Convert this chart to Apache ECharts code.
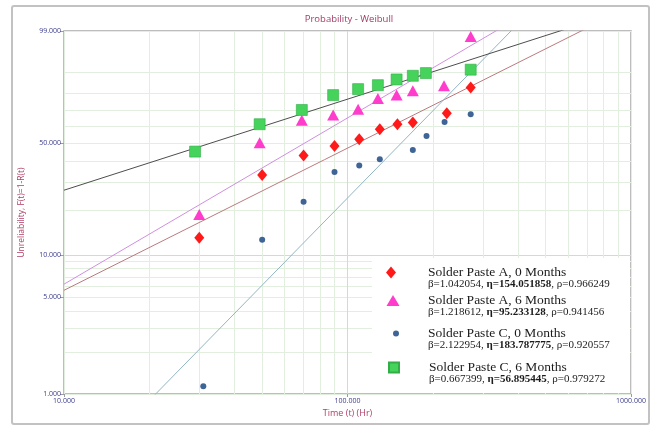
<!DOCTYPE html>
<html>
<head>
<meta charset="utf-8">
<script src="https://cdn.jsdelivr.net/npm/echarts@6/dist/echarts.min.js"></script>
<style>
  html, body { margin: 0; padding: 0; background: #ffffff; }
  #chart { width: 654px; height: 428px; }
</style>
</head>
<body>
<div id="chart"></div>
<script>
// Failure times (Hr) and unreliability (%) for each sample group
const timesA0 = [30, 50, 70, 90, 110, 130, 150, 170, 224, 272];
const unrelA0 = [13.1, 33.3, 43.1, 48.4, 52.3, 58.4, 61.5, 62.5, 68.3, 83.1];
const timesA6 = [30, 49, 69, 89, 109, 128, 149, 170, 219, 272];
const unrelA6 = [18.8, 50.3, 64.0, 67.3, 70.8, 77.1, 79.0, 81.3, 83.9, 98.5];
const timesC0 = [31, 50, 70, 90, 110, 130, 170, 190, 220, 272];
const unrelC0 = [1.14, 12.7, 22.7, 34.7, 37.9, 41.0, 46.1, 54.3, 62.9, 67.7];
const timesC6 = [29, 49, 69, 89, 109, 128, 149, 170, 189, 272];
const unrelC6 = [45.2, 61.5, 70.3, 79.0, 82.2, 84.2, 86.9, 88.5, 89.6, 90.9];

// Weibull fit parameters per group
const groupNames = ['Solder Paste A, 0 Months', 'Solder Paste A, 6 Months',
                    'Solder Paste C, 0 Months', 'Solder Paste C, 6 Months'];
const betas = [1.042054, 1.218612, 2.122954, 0.667399];
const etas  = [154.051858, 95.233128, 183.787775, 56.895445];
const rhos  = [0.966249, 0.941456, 0.920557, 0.979272];

// Axis ticks (labelled) and grid lines
const yTickPct  = [1, 5, 10, 50, 99];
const yGridPct  = [1, 2, 3, 4, 5, 6, 7, 8, 9, 10, 20, 30, 40, 50, 60, 70, 80, 90, 99];
const xTickTime = [10, 100, 1000];
const xGridTime = [10, 20, 30, 40, 50, 60, 70, 80, 90, 100,
                   200, 300, 400, 500, 600, 700, 800, 900, 1000];

// Weibull probability paper: y = ln(-ln(1 - F)), x = log10(t)
const wy = p => Math.log(-Math.log(1 - p / 100));
const wyInv = v => 100 * (1 - Math.exp(-Math.exp(v)));
const lx = t => Math.log10(t);

const times = [timesA0, timesA6, timesC0, timesC6];
const unrels = [unrelA0, unrelA6, unrelC0, unrelC6];
const colors = ['#ff1a1a', '#ff3ccc', '#3f6596', '#45d35b'];
const lineColors = ['#bb7a7e', '#d08ee0', '#93b5c4', '#4d4d4d'];
const symbols = ['diamond', 'triangle', 'circle', 'rect'];
const symbolSizes = [[10, 12], [12, 11], 6, 11];
const legendIcons = [[10, 12], [13, 11], [6, 6], [10, 10]];
const legendCenters = [[391, 277], [393, 305], [396, 338], [393, 372]];

const yMin = wy(1), yMax = wy(99);
const minorGrid = '#e2efdf';
const majorGrid = '#f1cccc';
const tickColor = '#3b3b8c';
const nameColor = '#b03f68';

// White panel (screen pixels) behind the legend entries
const panelLeft = 372, panelTop = 258, panelRight = 630, panelBottom = 393;

const scatterSeries = groupNames.map((name, k) => ({
  name: name,
  type: 'scatter',
  symbol: symbols[k],
  symbolSize: symbolSizes[k],
  itemStyle: k === 3
    ? { color: colors[k], borderColor: '#33ad48', borderWidth: 0.6, opacity: 1 }
    : { color: colors[k], opacity: 1 },
  data: times[k].map((t, i) => [lx(t), wy(unrels[k][i])]),
  z: 6,
  silent: true
}));

// Fitted lines: ln(-ln(R)) = beta * (ln t - ln eta)
const fitSeries = groupNames.map((name, k) => ({
  name: name + ' fit',
  type: 'line',
  showSymbol: false,
  symbol: 'none',
  clip: true,
  lineStyle: { color: lineColors[k], width: 1 },
  data: [1, 3].map(x => [x, betas[k] * (x * Math.LN10 - Math.log(etas[k]))]),
  z: 3,
  silent: true
}));
fitSeries[0].markArea = {
  silent: true,
  itemStyle: { color: '#ffffff', opacity: 1, borderWidth: 0 },
  data: [[{ x: panelLeft, y: panelTop }, { x: panelRight, y: panelBottom }]]
};

const textColor = '#1c1c1c';
const serif = 'Liberation Serif';
const legends = groupNames.map((name, k) => {
  const [w, h] = legendIcons[k];
  const [cx, cy] = legendCenters[k];
  const textStart = cx + w / 2 + 5;
  const gap = 428 - textStart;
  const fmt = '{s|\u00a0}\n{g|}{t|' + name + '}\n{g|}{p|\u03b2=' + betas[k].toFixed(6) + ', }{b|\u03b7=' +
              etas[k].toFixed(6) + '}{p|, \u03c1=' + rhos[k].toFixed(6) + '}';
  return {
    left: cx - w / 2,
    top: cy - 17,
    padding: 0,
    itemWidth: w,
    itemHeight: h,
    selectedMode: false,
    data: [{ name: name, icon: symbols[k] }],
    formatter: () => fmt,
    textStyle: {
      color: textColor,
      fontFamily: serif,
      rich: {
        s: { fontSize: 2, lineHeight: 11 },
        g: { width: gap, lineHeight: 10 },
        t: { fontSize: 13.5, lineHeight: 12, fontFamily: serif, color: textColor },
        p: { fontSize: 11, lineHeight: 11, fontFamily: serif, color: textColor },
        b: { fontSize: 11, lineHeight: 11, fontWeight: 'bold', fontFamily: serif, color: textColor }
      }
    }
  };
});

const chart = echarts.init(document.getElementById('chart'), null, { renderer: 'canvas' });
chart.setOption({
  animation: false,
  backgroundColor: '#ffffff',
  title: {
    text: 'Probability - Weibull',
    left: 349,
    textAlign: 'center',
    top: 14,
    padding: 0,
    textStyle: { color: '#a33a66', fontSize: 9.5, fontWeight: 'normal', fontFamily: 'Open Sans' }
  },
  graphic: [
    {
      type: 'rect', z: -10,
      shape: { x: 12, y: 6, width: 637, height: 418, r: 2 },
      style: { fill: 'none', stroke: '#c2c2c2', lineWidth: 2 }
    }
  ],
  grid: {
    left: 64, right: 23, top: 31, bottom: 34,
    show: true, borderColor: '#a8a8a8', borderWidth: 1.5, backgroundColor: '#ffffff',
    containLabel: false
  },
  legend: legends,
  xAxis: [
    {
      type: 'value', min: 1, max: 3, position: 'bottom',
      axisLine: { show: false, onZero: false }, axisLabel: { show: false },
      axisTick: { show: false, customValues: xGridTime.map(lx) },
      splitLine: { show: true, lineStyle: { width: 1, color: xGridTime.map(t => t === 100 ? majorGrid : minorGrid) } }
    },
    {
      type: 'value', min: 1, max: 3, position: 'bottom',
      axisLine: { show: false, onZero: false }, splitLine: { show: false },
      axisTick: { show: true, customValues: xTickTime.map(lx), length: 3, lineStyle: { color: '#9c9c9c' } },
      axisLabel: {
        customValues: xTickTime.map(lx), margin: 3,
        formatter: v => Math.round(Math.pow(10, v)).toFixed(3),
        color: tickColor, fontSize: 7, fontFamily: 'Open Sans'
      },
      name: 'Time (t) (Hr)', nameLocation: 'middle', nameGap: 15,
      nameTextStyle: { color: nameColor, fontSize: 9, fontFamily: 'Open Sans' }
    }
  ],
  yAxis: [
    {
      type: 'value', min: yMin, max: yMax, position: 'left',
      axisLine: { show: false, onZero: false }, axisLabel: { show: false },
      axisTick: { show: false, customValues: yGridPct.map(wy) },
      splitLine: { show: true, lineStyle: { width: 1, color: yGridPct.map(p => p === 10 ? majorGrid : minorGrid) } }
    },
    {
      type: 'value', min: yMin, max: yMax, position: 'left', offset: 0,
      axisLine: { show: false, onZero: false }, splitLine: { show: false },
      axisTick: { show: true, customValues: yTickPct.map(wy), length: 4, lineStyle: { color: '#9c9c9c' } },
      axisLabel: {
        customValues: yTickPct.map(wy), margin: 3,
        formatter: v => Math.round(wyInv(v)).toFixed(3),
        color: tickColor, fontSize: 7, fontFamily: 'Open Sans'
      },
      name: 'Unreliability, F(t)=1-R(t)', nameLocation: 'middle', nameGap: 38, nameRotate: 90,
      nameTextStyle: { color: nameColor, fontSize: 8.5, fontFamily: 'Open Sans' }
    }
  ],
  series: fitSeries.concat(scatterSeries)
});
</script>
</body>
</html>
